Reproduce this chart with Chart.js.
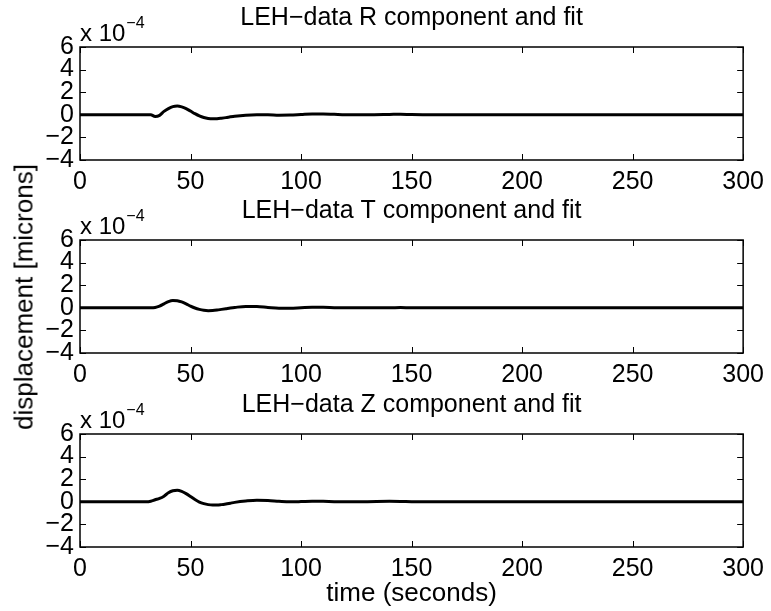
<!DOCTYPE html>
<html>
<head>
<meta charset="utf-8">
<script src="https://cdn.jsdelivr.net/npm/chart.js@4"></script>
<style>
body { margin: 0; background: #fff; }
#wrap { position: relative; width: 771px; height: 611px; background: #fff; overflow: hidden; }
canvas { position: absolute; left: 0; }
#ylab {
  position: absolute; left: 24px; top: 297px;
  transform: translate(-50%, -50%) rotate(-90deg);
  white-space: nowrap;
  font: 26px "Liberation Sans", Arial, sans-serif;
  color: #000;
}
</style>
</head>
<body>
<div id="wrap">
<canvas id="cR" width="771" height="200" style="top:0px"></canvas>
<canvas id="cT" width="771" height="200" style="top:193px"></canvas>
<canvas id="cZ" width="771" height="224" style="top:387px"></canvas>
<div id="ylab">displacement [microns]</div>
</div>
<script>
// time axis (seconds), shared by the three components
const timeSec = [0, 30, 32, 34, 36, 38, 40, 42, 44, 46,
                 48, 50, 52, 54, 56, 58, 60, 62, 64, 66,
                 68, 70, 75, 80, 85, 90, 95, 100, 105, 110,
                 115, 120, 130, 140, 145, 150, 160, 200, 250, 300];

// displacement, in units of 1e-4 microns
const rDisp = [0, 0, 0, -0.15, -0.05, 0.3, 0.55, 0.72, 0.77, 0.7,
               0.55, 0.33, 0.1, -0.1, -0.24, -0.32, -0.35, -0.34, -0.3, -0.25,
               -0.18, -0.12, -0.03, 0, 0, -0.03, -0.02, 0.03, 0.08, 0.08,
               0.04, 0, 0, 0.03, 0.05, 0.02, 0, 0, 0, 0];
const tDisp = [0, 0, 0, 0.03, 0.15, 0.35, 0.55, 0.65, 0.63, 0.52,
               0.35, 0.15, -0.02, -0.14, -0.22, -0.25, -0.24, -0.2, -0.14, -0.08,
               -0.02, 0.03, 0.12, 0.11, 0.03, -0.04, -0.04, 0, 0.04, 0.04,
               0.01, 0, 0, 0, 0.02, 0, 0, 0, 0, 0];
const zDisp = [0, 0, 0.05, 0.18, 0.3, 0.5, 0.8, 0.98, 1.02, 0.92,
               0.72, 0.47, 0.2, -0.02, -0.16, -0.25, -0.29, -0.29, -0.25, -0.19,
               -0.12, -0.05, 0.07, 0.14, 0.12, 0.05, 0, 0.02, 0.05, 0.04,
               0.01, 0, 0.01, 0.04, 0.03, 0.01, 0, 0, 0, 0];

const xTicks = [0, 50, 100, 150, 200, 250, 300];
const yTicks = [-4, -2, 0, 2, 4, 6];

const FONT = '"Liberation Sans", Arial, sans-serif';
Chart.defaults.font.family = FONT;
Chart.defaults.color = '#000';

// matlab style box with inward ticks and the x 10^-4 multiplier
const boxPlugin = {
  id: 'box',
  afterDraw(chart) {
    const {ctx, chartArea: a, scales: {x, y}} = chart;
    ctx.save();
    ctx.strokeStyle = '#000';
    ctx.lineWidth = 1;
    ctx.beginPath();
    xTicks.forEach(v => {
      const px = Math.round(x.getPixelForValue(v)) + 0.5;
      ctx.moveTo(px, a.bottom); ctx.lineTo(px, a.bottom - 6);
      ctx.moveTo(px, a.top); ctx.lineTo(px, a.top + 6);
    });
    yTicks.forEach(v => {
      const py = Math.round(y.getPixelForValue(v)) + 0.5;
      ctx.moveTo(a.left, py); ctx.lineTo(a.left + 6, py);
      ctx.moveTo(a.right, py); ctx.lineTo(a.right - 6, py);
    });
    ctx.stroke();
    ctx.lineWidth = 1.5;
    ctx.strokeRect(a.left, a.top, a.right - a.left, a.bottom - a.top);

    ctx.fillStyle = '#000';
    ctx.textAlign = 'left';
    ctx.textBaseline = 'alphabetic';
    ctx.font = '24px ' + FONT;
    ctx.fillText('x 10', a.left, a.top - 6);
    const w = ctx.measureText('x 10').width;
    ctx.font = '16px ' + FONT;
    ctx.fillText('\u22124', a.left + w + 1, a.top - 19);
    ctx.restore();
  }
};

function panel(id, vals, name, isLast) {
  const pts = timeSec.map((t, i) => ({x: t, y: vals[i]}));
  return new Chart(document.getElementById(id), {
    type: 'line',
    data: {
      datasets: [{
        data: pts,
        borderColor: '#000',
        borderWidth: 3,
        pointRadius: 0,
        cubicInterpolationMode: 'monotone',
        fill: false
      }]
    },
    options: {
      responsive: false,
      animation: false,
      layout: {padding: {left: 0, right: 27, top: 0, bottom: 0}},
      plugins: {
        legend: {display: false},
        tooltip: {enabled: false},
        title: {
          display: true,
          text: 'LEH\u2212data ' + name + ' component and fit',
          fullSize: false,
          color: '#000',
          font: {size: 25, weight: 'normal', lineHeight: 1.2},
          padding: {top: 3, bottom: 14}
        }
      },
      scales: {
        x: {
          type: 'linear',
          min: 0, max: 300,
          grid: {display: false, drawTicks: false},
          border: {display: false},
          afterBuildTicks: s => { s.ticks = xTicks.map(v => ({value: v})); },
          ticks: {color: '#000', font: {size: 25}, padding: 7, maxRotation: 0, autoSkip: false},
          title: {display: isLast, text: 'time (seconds)', color: '#000', font: {size: 26}, padding: {top: 0, bottom: 2}},
          afterFit: s => { s.height = isLast ? 64 : 40; }
        },
        y: {
          min: -4, max: 6,
          grid: {display: false, drawTicks: false},
          border: {display: false},
          afterBuildTicks: s => { s.ticks = yTicks.map(v => ({value: v})); },
          ticks: {
            color: '#000', font: {size: 25}, padding: 6, autoSkip: false,
            callback: v => v < 0 ? '\u2212' + Math.abs(v) : String(v)
          },
          afterFit: s => { s.width = 80; }
        }
      }
    },
    plugins: [boxPlugin]
  });
}

panel('cR', rDisp, 'R', false);
panel('cT', tDisp, 'T', false);
panel('cZ', zDisp, 'Z', true);
</script>
</body>
</html>
